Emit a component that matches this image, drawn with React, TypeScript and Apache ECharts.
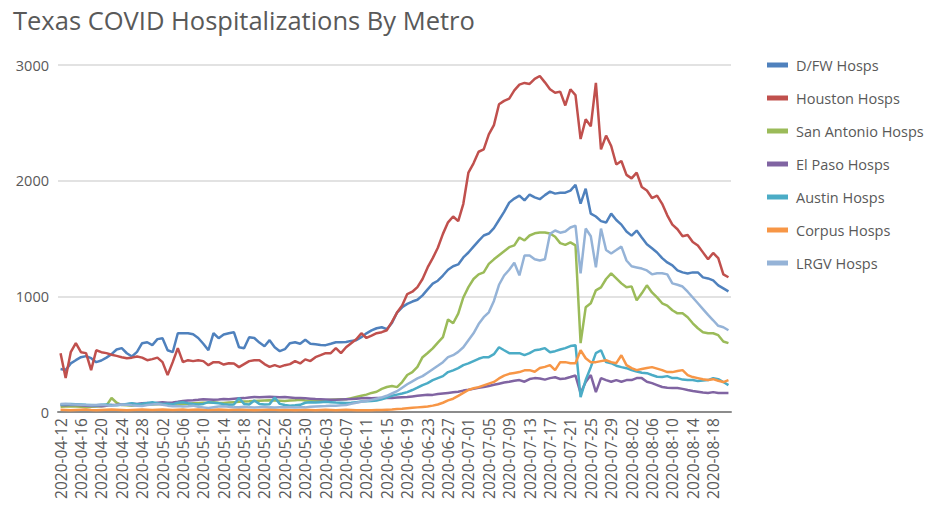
import React, { useEffect, useRef } from "react";
import * as echarts from "echarts";

const TITLE = "Texas COVID Hospitalizations By Metro";
const START_DATE = "2020-04-12";
const DAY_COUNT = 132;

function buildDates(start: string, n: number): string[] {
  const [y, m, d] = start.split("-").map(Number);
  const out: string[] = [];
  for (let i = 0; i < n; i++) {
    const dt = new Date(Date.UTC(y, m - 1, d + i));
    const mm = String(dt.getUTCMonth() + 1).padStart(2, "0");
    const dd = String(dt.getUTCDate()).padStart(2, "0");
    out.push(`${dt.getUTCFullYear()}-${mm}-${dd}`);
  }
  return out;
}
const dates = buildDates(START_DATE, DAY_COUNT);

const seriesNames = [
  "D/FW Hosps",
  "Houston Hosps",
  "San Antonio Hosps",
  "El Paso Hosps",
  "Austin Hosps",
  "Corpus Hosps",
  "LRGV Hosps",
];
const seriesColors = ["#4F81BD", "#C0504D", "#9BBB59", "#8064A2", "#4BACC6", "#F79646", "#95B3D7"];

const dfw = [
  371, 362, 420, 448, 474, 483, 465, 431, 445, 470,
  500, 540, 552, 508, 480, 520, 595, 603, 578, 630,
  638, 534, 517, 681, 681, 681, 672, 640, 590, 534,
  681, 638, 670, 681, 690, 560, 552, 647, 640, 600,
  569, 621, 560, 526, 543, 595, 603, 590, 625, 590,
  586, 580, 578, 590, 603, 603, 605, 615, 621, 647,
  680, 705, 724, 733, 716, 770, 860, 905, 935, 955,
  970, 1008, 1060, 1110, 1135, 1180, 1230, 1260, 1276, 1336,
  1379, 1430, 1480, 1526, 1543, 1590, 1660, 1730, 1810, 1845,
  1871, 1830, 1880, 1855, 1840, 1875, 1905, 1888, 1895, 1896,
  1914, 1965, 1802, 1931, 1715, 1690, 1650, 1638, 1715, 1660,
  1620, 1560, 1525, 1569, 1509, 1450, 1415, 1379, 1330, 1293,
  1267, 1224, 1207, 1198, 1207, 1207, 1164, 1155, 1138, 1095,
  1069, 1043,
];

const houston = [
  509, 293, 517, 595, 517, 509, 362, 534, 517, 509,
  495, 485, 474, 465, 470, 480, 470, 448, 457, 470,
  431, 319, 431, 552, 431, 448, 440, 448, 440, 405,
  431, 431, 410, 422, 420, 388, 414, 440, 448, 448,
  414, 390, 405, 390, 405, 414, 440, 420, 455, 440,
  474, 491, 509, 509, 552, 509, 560, 595, 629, 681,
  640, 660, 681, 690, 707, 780, 860, 920, 1020, 1040,
  1080, 1150, 1250, 1330, 1420, 1540, 1640, 1690, 1650, 1800,
  2070, 2150, 2250, 2270, 2400, 2480, 2660, 2690, 2710, 2780,
  2830, 2845, 2836, 2880, 2905, 2850, 2790, 2760, 2770, 2650,
  2790, 2740, 2360, 2530, 2470, 2845, 2270, 2390, 2300, 2140,
  2170, 2050, 2020, 2070, 1945, 1915, 1850, 1870, 1800, 1700,
  1620, 1580, 1520, 1530, 1470, 1440, 1380, 1320, 1375, 1330,
  1190, 1165,
];

const sanAntonio = [
  45, 48, 50, 48, 45, 42, 45, 48, 50, 55,
  121, 80, 60, 58, 55, 58, 60, 62, 65, 68,
  70, 72, 75, 70, 68, 72, 75, 78, 80, 82,
  85, 80, 78, 82, 85, 88, 90, 92, 95, 98,
  100, 102, 100, 98, 95, 100, 102, 105, 100, 98,
  95, 100, 102, 105, 108, 110, 110, 120, 130, 140,
  150, 165, 175, 200, 216, 225, 215, 259, 320, 345,
  390, 474, 510, 550, 600, 647, 800, 767, 850, 990,
  1080, 1150, 1190, 1207, 1280, 1320, 1355, 1390, 1425, 1440,
  1509, 1483, 1526, 1545, 1552, 1552, 1543, 1515, 1460, 1445,
  1466, 1440, 595, 905, 940, 1052, 1078, 1150, 1198, 1155,
  1112, 1078, 1086, 965, 1026, 1095, 1034, 991, 940, 920,
  880, 853, 853, 819, 767, 724, 690, 681, 681, 664,
  610, 595,
];

const elPaso = [
  60, 58, 62, 60, 58, 55, 52, 55, 50, 55,
  60, 62, 65, 68, 72, 70, 75, 78, 72, 80,
  85, 80, 82, 88, 95, 100, 102, 105, 110, 108,
  105, 108, 112, 110, 115, 118, 120, 125, 130, 128,
  130, 132, 130, 128, 130, 126, 122, 120, 118, 115,
  112, 110, 108, 105, 106, 108, 110, 112, 115, 118,
  120, 118, 120, 122, 121, 122, 125, 128, 130, 135,
  140, 145, 150, 148, 155, 160, 165, 170, 175, 185,
  192, 200, 210, 216, 225, 235, 245, 255, 262, 270,
  276, 262, 285, 293, 290, 280, 293, 300, 285, 290,
  302, 315, 164, 259, 319, 172, 293, 276, 262, 276,
  262, 276, 276, 293, 293, 262, 250, 233, 216, 210,
  207, 207, 200, 190, 181, 175, 168, 164, 172, 164,
  164, 164,
];

const austin = [
  65, 68, 70, 68, 65, 62, 60, 58, 62, 65,
  60, 58, 62, 70, 75, 68, 72, 78, 85, 75,
  70, 72, 68, 80, 85, 75, 70, 65, 70, 85,
  80, 75, 68, 62, 65, 120, 70, 65, 100, 70,
  65, 68, 125, 70, 60, 55, 58, 62, 80, 85,
  82, 85, 88, 85, 82, 80, 78, 80, 85, 90,
  92, 95, 100, 110, 125, 140, 150, 160, 172, 190,
  210, 233, 250, 275, 293, 310, 345, 360, 380, 405,
  420, 440, 460, 474, 474, 500, 560, 534, 509, 509,
  509, 491, 509, 534, 540, 552, 517, 526, 540, 552,
  570, 578, 129, 276, 388, 509, 534, 431, 422, 400,
  388, 379, 362, 350, 340, 336, 320, 305, 302, 310,
  293, 293, 280, 276, 276, 267, 272, 276, 293, 284,
  259, 233,
];

const corpus = [
  20, 18, 15, 18, 20, 22, 18, 15, 18, 20,
  22, 20, 18, 15, 18, 20, 22, 20, 18, 20,
  22, 20, 18, 20, 22, 18, 20, 22, 20, 18,
  20, 22, 20, 18, 20, 22, 20, 18, 16, 18,
  20, 22, 20, 18, 20, 18, 16, 18, 20, 18,
  16, 18, 20, 18, 16, 18, 20, 18, 16, 15,
  15, 16, 18, 18, 20, 22, 25, 28, 32, 36,
  40, 44, 48, 55, 65, 80, 100, 115, 140, 165,
  190, 205, 215, 230, 245, 260, 290, 315, 330, 338,
  345, 360, 362, 348, 380, 390, 405, 362, 431, 431,
  422, 422, 534, 465, 431, 431, 440, 448, 431, 422,
  491, 405, 379, 362, 371, 380, 388, 375, 362, 345,
  345, 355, 362, 319, 302, 293, 284, 276, 284, 270,
  259, 276,
];

const lrgv = [
  70, 72, 68, 65, 62, 60, 58, 60, 62, 58,
  55, 60, 65, 62, 58, 55, 52, 60, 65, 70,
  62, 55, 50, 52, 48, 50, 55, 45, 40, 35,
  42, 48, 50, 45, 40, 42, 45, 40, 38, 42,
  45, 40, 38, 40, 42, 40, 38, 42, 40, 45,
  48, 50, 52, 55, 55, 58, 60, 70, 80, 88,
  95, 105, 115, 125, 140, 160, 180, 210, 240, 265,
  290, 310, 340, 370, 400, 431, 474, 491, 520, 560,
  621, 680, 760, 820, 862, 960, 1100, 1180, 1230, 1290,
  1181, 1353, 1353, 1320, 1310, 1320, 1540, 1569, 1550, 1560,
  1595, 1612, 1198, 1586, 1520, 1250, 1586, 1400, 1371, 1400,
  1430, 1310, 1260, 1250, 1240, 1224, 1190, 1200, 1200, 1190,
  1112, 1100, 1085, 1040, 990, 940, 890, 840, 793, 745,
  733, 707,
];

const seriesValues = [dfw, houston, sanAntonio, elPaso, austin, corpus, lrgv];

const Y_MIN = 0;
const Y_MAX = 3000;
const Y_INTERVAL = 1000;

const FONT = "'Open Sans', 'Noto Sans', sans-serif";
const TEXT_COLOR = "#595959";

export default function App() {
  const ref = useRef<HTMLDivElement>(null);

  useEffect(() => {
    if (!ref.current) return;
    const chart = echarts.init(ref.current, undefined, { renderer: "svg" });
    chart.setOption({
      animation: false,
      backgroundColor: "#ffffff",
      title: {
        text: TITLE,
        left: 8,
        top: 2,
        textStyle: {
          fontFamily: FONT,
          fontSize: 25.5,
          fontWeight: "normal",
          color: TEXT_COLOR,
        },
      },
      legend: {
        orient: "vertical",
        left: 762,
        top: 52,
        icon: "rect",
        itemWidth: 21,
        itemHeight: 5,
        itemGap: 17,
        data: seriesNames,
        textStyle: {
          fontFamily: FONT,
          fontSize: 14.5,
          lineHeight: 16,
          color: TEXT_COLOR,
          padding: [0, 0, 0, 3],
        },
      },
      grid: { left: 58, right: 205, top: 65, bottom: 116 },
      xAxis: {
        type: "category",
        data: dates,
        boundaryGap: true,
        axisLine: { lineStyle: { color: "#8c8c8c", width: 2 } },
        axisTick: { show: false },
        axisLabel: {
          interval: 3,
          rotate: 90,
          margin: 6,
          fontFamily: FONT,
          fontSize: 15.5,
          color: TEXT_COLOR,
        },
        splitLine: { show: false },
      },
      yAxis: {
        type: "value",
        min: Y_MIN,
        max: Y_MAX,
        interval: Y_INTERVAL,
        axisLine: { show: false },
        axisTick: { show: false },
        axisLabel: {
          margin: 9,
          fontFamily: FONT,
          fontSize: 14.5,
          color: TEXT_COLOR,
          formatter: (v: number) => String(v),
        },
        splitLine: { lineStyle: { color: "#d9d9d9", width: 1.5 } },
      },
      series: seriesNames.map((name, i) => ({
        name,
        type: "line",
        data: seriesValues[i],
        symbol: "none",
        showSymbol: false,
        lineStyle: { width: 2.5, color: seriesColors[i] },
        itemStyle: { color: seriesColors[i] },
      })),
    });
    return () => chart.dispose();
  }, []);

  return (
    <div
      ref={ref}
      style={{ position: "fixed", left: 0, top: 0, width: 936, height: 528, background: "#fff" }}
    />
  );
}
